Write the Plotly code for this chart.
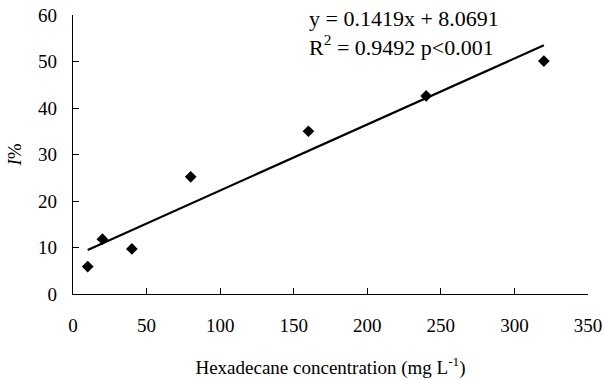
import plotly.graph_objects as go

# Hexadecane concentration (mg/L) and inhibition I (%)
concentration = [10, 20, 40, 80, 160, 240, 320]
inhibition = [5.9, 11.8, 9.7, 25.2, 35.0, 42.6, 50.1]

# Linear fit reported on the chart
slope = 0.1419
intercept = 8.0691
r_squared = 0.9492

x_fit = [min(concentration), max(concentration)]
y_fit = [slope * x + intercept for x in x_fit]

font_family = "Liberation Serif, Times New Roman, serif"

fig = go.Figure()
fig.add_trace(go.Scatter(
    x=x_fit, y=y_fit, mode="lines",
    line=dict(color="black", width=2.2),
    hoverinfo="skip", showlegend=False,
))
fig.add_trace(go.Scatter(
    x=concentration, y=inhibition, mode="markers",
    marker=dict(symbol="diamond", size=9, color="black"),
    showlegend=False,
))

fig.add_annotation(
    x=159, y=60, xref="x", yref="y", showarrow=False,
    xanchor="left", yanchor="top", yshift=11,
    align="left",
    text=f"y = {slope}x + {intercept}<br>R<sup>2</sup> = {r_squared} p<0.001",
    font=dict(family=font_family, size=22, color="black"),
)

fig.update_layout(
    width=604, height=380,
    margin=dict(l=73, r=16, t=15, b=86, autoexpand=False),
    paper_bgcolor="white", plot_bgcolor="white",
    font=dict(family=font_family, size=19, color="black"),
    xaxis=dict(
        range=[0, 350], tickvals=[0, 50, 100, 150, 200, 250, 300, 350],
        showline=True, linecolor="black", linewidth=1.3,
        ticks="inside", ticklen=6, tickcolor="black", tickwidth=1.3,
        ticklabelstandoff=14, automargin=False,
        showgrid=False, zeroline=False,
        title=dict(text="Hexadecane concentration (mg L<sup>-1</sup>)",
                   font=dict(size=19), standoff=25),
    ),
    yaxis=dict(
        range=[0, 60], tickvals=[0, 10, 20, 30, 40, 50, 60],
        showline=True, linecolor="black", linewidth=1.3,
        ticks="inside", ticklen=6, tickcolor="black", tickwidth=1.3,
        ticklabelstandoff=11, automargin=False,
        showgrid=False, zeroline=False,
        title=dict(text="<i>I</i>%", font=dict(size=19), standoff=11),
    ),
)

fig.write_html("out.html")
